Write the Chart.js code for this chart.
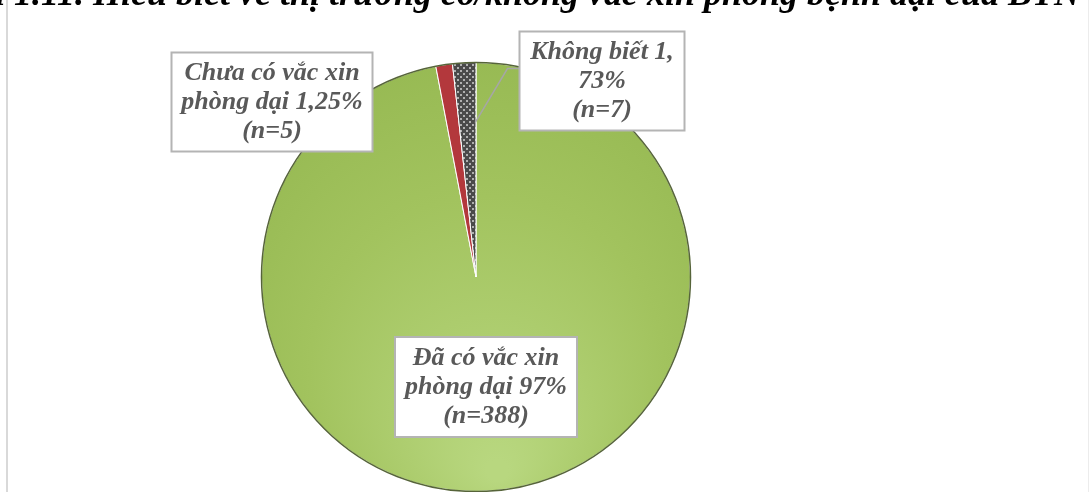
<!DOCTYPE html>
<html lang="vi">
<head>
<meta charset="utf-8">
<script src="https://cdn.jsdelivr.net/npm/chart.js@4.4.1/dist/chart.umd.min.js"></script>
<style>
    html, body { margin: 0; padding: 0; background: #fff; }
    #wrap { width: 1089px; height: 492px; position: relative; }
</style>
</head>
<body>
<div id="wrap"><canvas id="pieChart"></canvas></div>
<script>
const categories = ['Đã có vắc xin phòng dại', 'Chưa có vắc xin phòng dại', 'Không biết'];
const counts = [388, 5, 7];
const percentText = ['97%', '1,25%', '1,73%'];
const titleText = 'Hình 1.11. Hiểu biết về thị trường có/không vắc xin phòng bệnh dại của BTN';

// text in each label box, built from the values above
const labelLines = [
    ['Đã có vắc xin', 'phòng dại ' + percentText[0], '(n=' + counts[0] + ')'],
    ['Chưa có vắc xin', 'phòng dại ' + percentText[1], '(n=' + counts[1] + ')'],
    ['Không biết ' + percentText[2].split(',')[0] + ',', percentText[2].split(',')[1], '(n=' + counts[2] + ')']
];

// label boxes, placed relative to the pie centre
const labelBoxes = [
    { dx: 10, dy: 110, w: 182, h: 100 },
    { dx: -204, dy: -175, w: 201, h: 99 },
    { dx: 126, dy: -196, w: 165, h: 99 }
];

const labelFont = 'bold italic 26px "Liberation Serif", "Times New Roman", serif';

function dotPattern() {
    const p = document.createElement('canvas');
    p.width = 6; p.height = 6;
    const g = p.getContext('2d');
    g.fillStyle = '#4a4a4a';
    g.fillRect(0, 0, 6, 6);
    g.fillStyle = '#b0b0b0';
    g.fillRect(1, 1, 2, 2);
    g.fillRect(4, 4, 2, 2);
    return g.createPattern(p, 'repeat');
}

function sliceColor(context) {
    const chart = context.chart;
    const area = chart.chartArea;
    if (!area) return '#9bbb59';
    const c = chart.ctx;
    const cx = (area.left + area.right) / 2;
    const cy = (area.top + area.bottom) / 2;
    const r = Math.min(area.width, area.height) / 2;
    if (context.dataIndex === 0) {
        const g = c.createRadialGradient(cx + r * 0.1, cy + r * 0.9, r * 0.05, cx, cy, r * 1.6);
        g.addColorStop(0, '#b8d77f');
        g.addColorStop(0.5, '#a2c35e');
        g.addColorStop(1, '#8eb24a');
        return g;
    }
    if (context.dataIndex === 1) return '#b3383c';
    return dotPattern();
}

const pieDecor = {
    id: 'pieDecor',
    beforeDraw(chart) {
        const c = chart.ctx;
        c.save();
        c.strokeStyle = '#d9d9d9';
        c.lineWidth = 2;
        c.beginPath();
        c.moveTo(7, 0); c.lineTo(7, chart.height);
        c.stroke();
        c.strokeStyle = '#ececec';
        c.lineWidth = 1;
        c.beginPath();
        c.moveTo(1088.5, 0); c.lineTo(1088.5, chart.height);
        c.stroke();

        c.font = 'bold italic 36px "Liberation Serif", "Times New Roman", serif';
        c.fillStyle = '#000';
        c.textBaseline = 'alphabetic';
        const lead = c.measureText('Hình').width;
        c.fillText(titleText, 5 - lead, 5);
        c.restore();
    },
    afterDatasetsDraw(chart) {
        const c = chart.ctx;
        const arcs = chart.getDatasetMeta(0).data;
        const a0 = arcs[0];
        const cx = a0.x, cy = a0.y, r = a0.outerRadius;

        c.save();
        c.strokeStyle = '#56643a';
        c.lineWidth = 1.5;
        c.beginPath();
        c.arc(cx, cy, r, 0, Math.PI * 2);
        c.stroke();

        // leader line from the "Không biết" box to its slice
        const grey = arcs[2];
        const ang = grey.endAngle - (grey.endAngle - grey.startAngle) * 0.05;
        const px = cx + Math.cos(ang) * r * 0.72;
        const py = cy + Math.sin(ang) * r * 0.72;
        const b = labelBoxes[2];
        const bl = cx + b.dx - b.w / 2;
        const bt = cy + b.dy - b.h / 2;
        c.strokeStyle = '#a6a6a6';
        c.lineWidth = 1.5;
        c.beginPath();
        c.moveTo(bl, bt + 37);
        c.lineTo(bl - 12, bt + 37);
        c.lineTo(px, py);
        c.stroke();

        c.font = labelFont;
        c.textAlign = 'center';
        c.textBaseline = 'middle';
        labelBoxes.forEach((box, i) => {
            const x = cx + box.dx - box.w / 2;
            const y = cy + box.dy - box.h / 2;
            c.fillStyle = '#ffffff';
            c.fillRect(x, y, box.w, box.h);
            c.strokeStyle = '#b4b4b4';
            c.lineWidth = 2;
            c.strokeRect(x, y, box.w, box.h);
            c.fillStyle = '#595959';
            const lines = labelLines[i];
            const lh = 29;
            const top = cy + box.dy - lh * (lines.length - 1) / 2;
            lines.forEach((t, j) => c.fillText(t, cx + box.dx, top + j * lh));
        });
        c.restore();
    }
};

const ctx = document.getElementById('pieChart').getContext('2d');
const myChart = new Chart(ctx, {
    type: 'pie',
    data: {
        labels: categories,
        datasets: [{
            data: counts,
            backgroundColor: sliceColor,
            borderColor: '#ffffff',
            borderWidth: 1
        }]
    },
    options: {
        responsive: true,
        maintainAspectRatio: false,
        animation: false,
        layout: { padding: { top: 62, bottom: 0, left: 0, right: 137 } },
        plugins: {
            legend: { display: false },
            tooltip: { enabled: false },
            title: { display: false }
        }
    },
    plugins: [pieDecor]
});
</script>
</body>
</html>
